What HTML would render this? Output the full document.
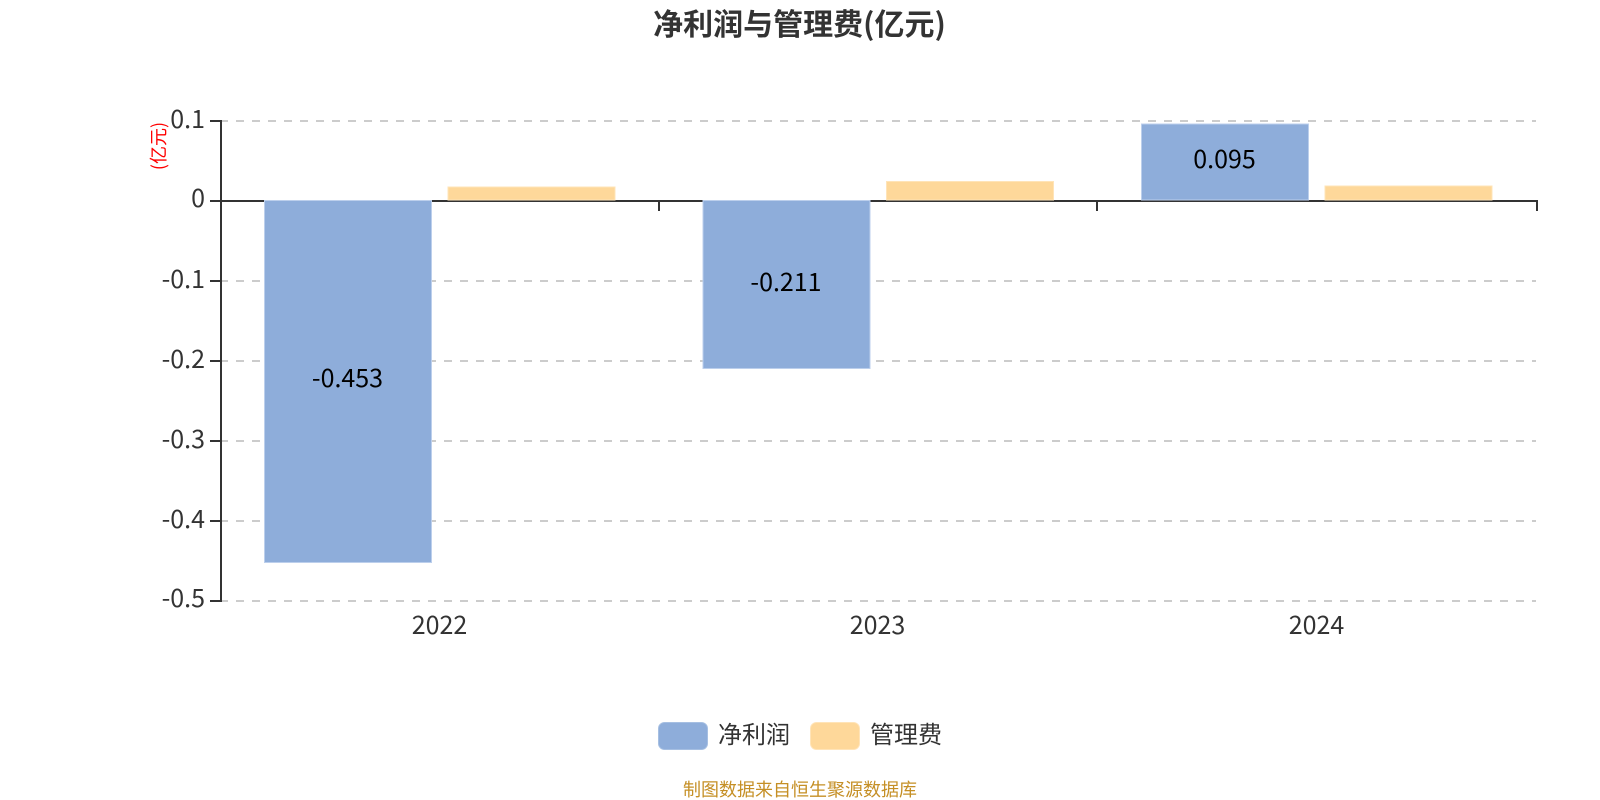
<!DOCTYPE html>
<html>
<head>
<meta charset="utf-8">
<style>
html,body{margin:0;padding:0;background:#fff;width:1600px;height:800px;overflow:hidden}
svg{display:block}
text{font-family:"Noto Sans CJK SC","Liberation Sans",sans-serif}
</style>
</head>
<body>
<svg width="1600" height="800" viewBox="0 0 1600 800" xmlns="http://www.w3.org/2000/svg">
<rect width="1600" height="800" fill="#fff"/>
<text x="799.5" y="35" font-size="30" font-weight="700" fill="#333" text-anchor="middle">净利润与管理费(亿元)</text>
<g stroke="#ccc" stroke-width="2" stroke-dasharray="8 8" fill="none">
<path d="M220 121H1536"/><path d="M220 281H1536"/><path d="M220 361H1536"/><path d="M220 441H1536"/><path d="M220 521H1536"/><path d="M220 601H1536"/>
</g>
<g stroke="#333" stroke-width="2" fill="none">
<path d="M221 120V602"/>
<path d="M210 121H221M210 201H221M210 281H221M210 361H221M210 441H221M210 521H221M210 601H221"/>
<path d="M221 201H1538"/>
<path d="M659 201V211M1097 201V211M1537 201V211"/>
</g>
<g fill="#8eadda" stroke="#bccfec" stroke-width="1">
<rect x="264.5" y="200.5" width="167" height="362"/>
<rect x="703" y="200.5" width="167" height="168"/>
<rect x="1141.5" y="124" width="167" height="76"/>
</g>
<g fill="#fed89a" stroke="#ffe4b8" stroke-width="1">
<rect x="448" y="187" width="167" height="13"/>
<rect x="886.5" y="181.5" width="167" height="18.5"/>
<rect x="1325" y="186" width="167" height="14"/>
</g>
<g font-size="25" fill="#333" text-anchor="end">
<text x="205" y="128">0.1</text>
<text x="205" y="207">0</text>
<text x="205" y="288">-0.1</text>
<text x="205" y="368">-0.2</text>
<text x="205" y="448">-0.3</text>
<text x="205" y="528">-0.4</text>
<text x="205" y="607">-0.5</text>
</g>
<g font-size="25" fill="#333" text-anchor="middle">
<text x="439.5" y="634">2022</text>
<text x="877.5" y="634">2023</text>
<text x="1316.5" y="634">2024</text>
</g>
<g font-size="25" fill="#000" text-anchor="middle">
<text x="347.5" y="387">-0.453</text>
<text x="786" y="291">-0.211</text>
<text x="1224.5" y="168">0.095</text>
</g>
<text transform="translate(165 146) rotate(-90)" font-size="18" fill="#f00" text-anchor="middle">(亿元)</text>
<rect x="658.5" y="722.5" width="49" height="27" rx="6" fill="#8eadda" stroke="#a6bfe2"/>
<text x="718" y="743" font-size="24" fill="#333">净利润</text>
<rect x="810.5" y="722.5" width="49" height="27" rx="6" fill="#fed89a" stroke="#ffe4b8"/>
<text x="870" y="743" font-size="24" fill="#333">管理费</text>
<text x="800" y="796" font-size="18" fill="#c58f25" text-anchor="middle">制图数据来自恒生聚源数据库</text>
</svg>
</body>
</html>
